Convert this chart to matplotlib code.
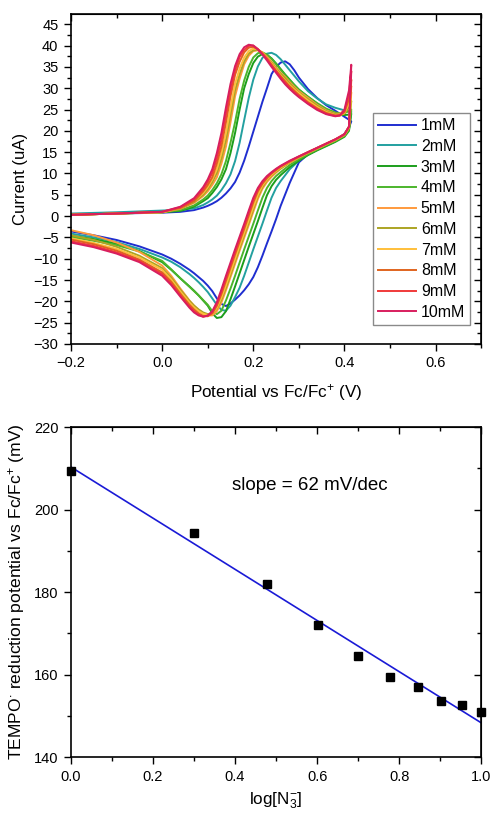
import matplotlib
matplotlib.use("Agg")
import matplotlib.pyplot as plt
from matplotlib.ticker import MultipleLocator

plt.rcParams['font.family'] = ['Liberation Sans', 'DejaVu Sans']
plt.rcParams['mathtext.fontset'] = 'custom'
plt.rcParams['mathtext.rm'] = 'Liberation Sans'
plt.rcParams['mathtext.it'] = 'Liberation Sans:italic'
plt.rcParams['mathtext.bf'] = 'Liberation Sans:bold'

# ---- cyclic voltammograms (potential in V, current in uA) ----
fwd_v = [-0.2, -0.1, 0.0, 0.04, 0.07, 0.09, 0.10, 0.11, 0.12, 0.13, 0.14, 0.15, 0.16, 0.17,
         0.18, 0.19, 0.20, 0.21, 0.22, 0.23, 0.24, 0.25, 0.26, 0.27, 0.28, 0.29, 0.30,
         0.32, 0.34, 0.36, 0.38, 0.39, 0.40, 0.41, 0.415]
rev_v = [0.415, 0.41, 0.40, 0.38, 0.36, 0.34, 0.32, 0.30, 0.28, 0.26, 0.25, 0.24, 0.23, 0.22,
         0.21, 0.20, 0.19, 0.18, 0.17, 0.16, 0.15, 0.14, 0.13, 0.12, 0.11, 0.10, 0.09, 0.08,
         0.07, 0.06, 0.04, 0.02, 0.0, -0.05, -0.1, -0.15, -0.2]

fwd_1 = [0.4, 0.6, 0.8, 1.0, 1.4, 2.0, 2.4, 2.9, 3.5, 4.3, 5.3, 6.5, 8.0, 10.2, 13.0, 16.3, 19.8,
         23.3, 26.8, 30.0, 33.3, 35.0, 36.0, 36.3, 35.6, 34.2, 32.5, 29.8, 27.7, 26.0, 24.7, 24.0,
         23.3, 22.6, 22.2]
rev_1 = [22.2, 20.8, 19.3, 17.6, 16.5, 15.6, 14.5, 12.6, 7.8, 2.4, -0.7, -3.6, -6.4, -9.3, -12.0,
         -14.3, -16.0, -17.4, -18.6, -19.6, -20.5, -21.1, -20.6, -19.3, -17.6, -16.3, -15.2, -14.3,
         -13.4, -12.6, -11.2, -10.0, -9.0, -7.1, -5.6, -4.5, -3.6]
fwd_2 = [0.6, 0.9, 1.3, 1.5, 1.8, 2.6, 3.2, 3.9, 4.8, 6.1, 7.7, 9.8, 12.9, 17.2, 22.5, 27.7, 32.0,
         35.1, 37.1, 38.1, 38.3, 37.8, 36.8, 35.5, 34.2, 32.9, 31.6, 29.3, 27.6, 26.2, 25.4, 25.1,
         24.8, 24.5, 24.5]
rev_2 = [24.5, 20.5, 19.0, 17.6, 16.6, 15.6, 14.4, 13.0, 11.0, 8.2, 6.6, 4.3, 1.3, -1.8, -4.8,
         -7.8, -10.9, -14.0, -16.8, -19.0, -21.0, -22.2, -22.0, -20.8, -19.3, -17.8, -16.6, -15.5,
         -14.5, -13.6, -12.0, -10.7, -9.7, -7.7, -6.1, -5.0, -4.1]
fwd_3 = [0.3, 0.6, 0.9, 1.2, 2.2, 3.5, 4.2, 5.4, 6.8, 8.6, 11.0, 14.8, 19.5, 25.0, 30.0, 33.3, 35.9,
         37.4, 38.0, 37.8, 37.0, 35.8, 34.5, 33.2, 32.0, 30.8, 29.7, 28.0, 26.4, 25.0, 24.1, 23.8,
         23.7, 23.8, 24.0]
rev_3 = [24.0, 20.0, 18.6, 17.4, 16.4, 15.4, 14.3, 13.0, 11.5, 9.6, 8.5, 7.0, 4.9, 1.9, -1.2,
         -4.2, -7.2, -10.3, -13.4, -16.5, -19.5, -22.3, -23.7, -23.9, -22.8, -21.0, -19.8, -18.6,
         -17.5, -16.5, -14.6, -12.6, -10.8, -8.2, -6.5, -5.4, -4.6]
fwd_4 = [0.3, 0.6, 0.9, 1.4, 2.5, 3.9, 4.8, 6.1, 7.7, 9.8, 12.9, 17.2, 22.0, 27.5, 31.8, 35.0, 37.2,
         38.2, 38.4, 37.9, 36.9, 35.6, 34.3, 33.0, 31.8, 30.7, 29.6, 28.0, 26.5, 25.2, 24.3, 24.1,
         24.2, 24.6, 25.0]
rev_4 = [25.0, 20.3, 18.8, 17.6, 16.6, 15.6, 14.5, 13.3, 12.0, 10.3, 9.4, 8.2, 6.6, 4.3, 1.3,
         -1.8, -4.8, -7.8, -10.9, -14.0, -17.0, -19.8, -22.2, -23.0, -22.3, -20.8, -19.7, -18.6,
         -17.6, -16.6, -14.6, -12.5, -10.5, -8.3, -6.8, -5.8, -4.9]
fwd_5 = [0.3, 0.6, 0.9, 1.7, 3.1, 4.7, 5.8, 7.3, 9.1, 12.3, 16.3, 22.0, 28.1, 32.2, 35.6, 37.6, 38.7,
         38.9, 38.4, 37.4, 36.2, 34.9, 33.6, 32.6, 31.4, 30.3, 29.3, 27.7, 26.1, 24.8, 24.0, 24.0,
         24.8, 27.5, 30.5]
rev_5 = [30.5, 20.8, 19.0, 17.8, 16.8, 15.8, 14.8, 13.7, 12.5, 11.1, 10.2, 9.2, 8.0, 6.4, 4.0,
         1.0, -2.1, -5.1, -8.1, -11.2, -14.3, -17.4, -20.3, -22.3, -23.3, -23.3, -22.8, -22.0,
         -21.0, -19.8, -17.0, -14.0, -11.6, -8.4, -6.2, -4.5, -3.3]
fwd_6 = [0.3, 0.6, 0.9, 1.8, 3.3, 5.0, 6.3, 8.0, 10.1, 13.5, 17.9, 23.8, 29.5, 33.3, 36.3, 38.1, 38.9,
         39.0, 38.3, 37.2, 36.0, 34.6, 33.4, 32.3, 31.1, 30.0, 29.0, 27.4, 25.9, 24.6, 23.9, 23.8,
         24.0, 25.5, 27.0]
rev_6 = [27.0, 20.6, 19.0, 17.8, 16.8, 15.8, 14.8, 13.7, 12.6, 11.2, 10.4, 9.5, 8.4, 6.8, 4.6,
         1.6, -1.5, -4.5, -7.5, -10.6, -13.7, -16.8, -19.6, -21.7, -22.9, -23.0, -22.6, -21.9,
         -21.0, -19.9, -17.3, -14.5, -12.2, -9.3, -7.2, -5.6, -4.5]
fwd_7 = [0.3, 0.6, 0.9, 1.9, 3.5, 5.4, 6.8, 8.6, 11.0, 14.8, 19.5, 25.5, 31.0, 34.6, 37.2, 38.7, 39.3,
         39.1, 38.3, 37.1, 35.8, 34.4, 33.0, 31.8, 30.7, 29.7, 28.8, 27.1, 25.6, 24.4, 23.7, 23.6,
         24.2, 26.5, 29.0]
rev_7 = [29.0, 20.8, 19.1, 17.9, 16.9, 15.9, 14.9, 13.8, 12.7, 11.4, 10.6, 9.7, 8.6, 7.2, 5.0,
         2.2, -0.9, -3.9, -6.9, -10.0, -13.1, -16.2, -19.1, -21.5, -22.9, -23.2, -22.9, -22.3,
         -21.4, -20.3, -17.7, -14.9, -12.6, -9.7, -7.7, -6.3, -5.2]
fwd_8 = [0.3, 0.6, 1.0, 1.9, 3.5, 5.8, 7.3, 9.1, 12.3, 16.3, 22.0, 28.1, 33.1, 36.2, 38.4, 39.5, 39.7,
         39.1, 38.1, 36.9, 35.5, 34.1, 32.8, 31.6, 30.4, 29.4, 28.4, 26.7, 25.3, 24.2, 23.6, 23.7,
         24.4, 27.5, 32.0]
rev_8 = [32.0, 21.0, 19.2, 18.0, 17.0, 16.0, 15.0, 13.9, 12.8, 11.6, 10.8, 10.0, 8.9, 7.6, 5.8,
         3.2, 0.1, -3.0, -6.0, -9.0, -12.1, -15.2, -18.3, -21.0, -22.8, -23.5, -23.4, -22.8,
         -21.9, -20.8, -18.2, -15.4, -13.2, -10.2, -8.1, -6.6, -5.5]
fwd_9 = [0.3, 0.6, 1.0, 2.1, 3.9, 6.3, 8.0, 10.1, 13.5, 17.9, 23.8, 29.5, 34.1, 37.3, 39.0, 39.9, 40.0,
         39.2, 38.1, 36.9, 35.4, 34.0, 32.6, 31.3, 30.1, 29.1, 28.2, 26.5, 25.1, 24.0, 23.5, 23.6,
         24.6, 28.5, 34.0]
rev_9 = [34.0, 21.0, 19.2, 18.0, 17.0, 16.0, 15.0, 14.0, 12.9, 11.7, 11.0, 10.1, 9.2, 7.9, 6.2,
         3.8, 0.7, -2.4, -5.4, -8.4, -11.5, -14.6, -17.8, -20.7, -22.6, -23.4, -23.6, -23.1,
         -22.3, -21.2, -18.6, -15.9, -13.6, -10.5, -8.5, -7.0, -5.9]
fwd_10 = [0.3, 0.6, 1.0, 2.2, 4.2, 6.8, 8.6, 11.0, 14.8, 19.5, 25.5, 31.0, 35.2, 38.0, 39.6, 40.2, 40.0,
          39.1, 37.9, 36.5, 35.0, 33.6, 32.2, 30.9, 29.8, 28.8, 27.9, 26.3, 24.9, 23.9, 23.4, 23.6,
          25.0, 29.5, 35.5]
rev_10 = [35.5, 21.0, 19.2, 18.0, 17.0, 16.0, 15.0, 14.0, 13.0, 11.8, 11.1, 10.3, 9.4, 8.2, 6.6,
          4.3, 1.3, -1.8, -4.8, -7.8, -10.9, -14.0, -17.2, -20.2, -22.3, -23.3, -23.6, -23.3,
          -22.6, -21.5, -18.9, -16.2, -14.0, -10.8, -8.8, -7.3, -6.2]

cv_labels = ['1mM', '2mM', '3mM', '4mM', '5mM', '6mM', '7mM', '8mM', '9mM', '10mM']
cv_colors = ['#1f2ed0', '#23a0a0', '#1c9e1c', '#4cb52c', '#ff9a3c',
             '#aca424', '#ffbf3a', '#e0641e', '#f03a3a', '#d81e5e']
fwd_all = [fwd_1, fwd_2, fwd_3, fwd_4, fwd_5, fwd_6, fwd_7, fwd_8, fwd_9, fwd_10]
rev_all = [rev_1, rev_2, rev_3, rev_4, rev_5, rev_6, rev_7, rev_8, rev_9, rev_10]

# ---- reduction potential vs log[N3-] ----
log_n3 = [0.0, 0.301, 0.477, 0.602, 0.699, 0.778, 0.845, 0.903, 0.954, 1.0]
e_red = [209.3, 194.4, 181.9, 172.0, 164.5, 159.5, 157.0, 153.5, 152.5, 150.8]
fit_x = [0.0, 1.0]
fit_y = [210.3, 148.3]


def style_axes(ax, xmaj, xmin, ymaj, ymin):
    ax.xaxis.set_major_locator(MultipleLocator(xmaj))
    ax.xaxis.set_minor_locator(MultipleLocator(xmin))
    ax.yaxis.set_major_locator(MultipleLocator(ymaj))
    ax.yaxis.set_minor_locator(MultipleLocator(ymin))
    ax.tick_params(which='both', direction='out', labelsize=10.5, pad=4, width=1)
    ax.tick_params(which='major', length=5)
    ax.tick_params(which='minor', length=3)
    for s in ax.spines.values():
        s.set_linewidth(1.2)
    top = ax.secondary_xaxis('top')
    top.xaxis.set_major_locator(MultipleLocator(xmaj))
    top.xaxis.set_minor_locator(MultipleLocator(xmin))
    top.tick_params(which='both', direction='in', labeltop=False, width=1)
    top.tick_params(which='major', length=5)
    top.tick_params(which='minor', length=3)
    right = ax.secondary_yaxis('right')
    right.yaxis.set_major_locator(MultipleLocator(ymaj))
    right.yaxis.set_minor_locator(MultipleLocator(ymin))
    right.tick_params(which='both', direction='in', labelright=False, width=1)
    right.tick_params(which='major', length=5)
    right.tick_params(which='minor', length=3)


fig = plt.figure(figsize=(4.93, 8.14), dpi=100)

# top panel
ax1 = fig.add_axes([0.144, 0.5774, 0.832, 0.4054])
for i in range(len(cv_labels)):
    ax1.plot(fwd_v + rev_v, fwd_all[i] + rev_all[i], color=cv_colors[i], lw=1.4,
             label=cv_labels[i])
ax1.set_xlim(-0.2, 0.7)
ax1.set_ylim(-30, 47.4)
style_axes(ax1, 0.2, 0.1, 5, 2.5)
ax1.set_xlabel('Potential vs Fc/Fc$^{+}$ (V)', fontsize=12.3, labelpad=8)
ax1.set_ylabel('Current (uA)', fontsize=12, labelpad=4)
leg = ax1.legend(loc='upper left', bbox_to_anchor=(0.736, 0.699), fontsize=11.5,
                 frameon=True, fancybox=False, edgecolor='#8a8a8a', framealpha=1,
                 labelspacing=0.36, handlelength=2.4, handletextpad=0.3,
                 borderpad=0.3, borderaxespad=0)
leg.get_frame().set_linewidth(1.0)

# bottom panel
ax2 = fig.add_axes([0.144, 0.070, 0.832, 0.4054])
ax2.plot(fit_x, fit_y, color='#1a1ad6', lw=1.2)
ax2.plot(log_n3, e_red, 's', color='black', ms=5.5, clip_on=False)
ax2.set_xlim(0, 1)
ax2.set_ylim(140, 220)
style_axes(ax2, 0.2, 0.1, 20, 10)
ax2.text(0.583, 205.9, 'slope = 62 mV/dec', fontsize=13.5, ha='center', va='center')
ax2.set_xlabel('log[N$_{3}^{-}$]', fontsize=12.3, labelpad=5)
ax2.set_ylabel('TEMPO$^{\\bullet}$ reduction potential vs Fc/Fc$^{+}$ (mV)',
               fontsize=12.6, labelpad=5)

fig.savefig('out.png', dpi=100)
